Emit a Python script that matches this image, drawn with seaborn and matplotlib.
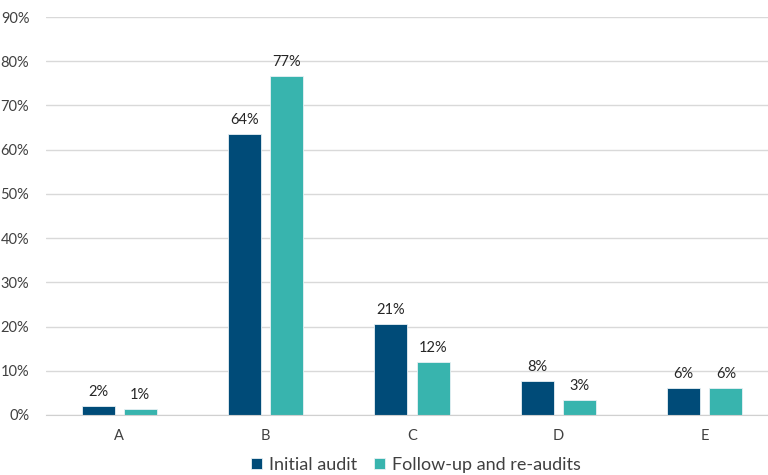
import pandas as pd
import seaborn as sns
import matplotlib.pyplot as plt

categories = ["A", "B", "C", "D", "E"]
initial = [2.1, 63.6, 20.6, 7.6, 6.2]
followup = [1.4, 76.7, 12.0, 3.4, 6.2]
series = ["Initial audit", "Follow-up and re-audits"]
yticks = [0, 10, 20, 30, 40, 50, 60, 70, 80, 90]

df = pd.DataFrame({
    "cat": categories * 2,
    "val": initial + followup,
    "serie": [series[0]] * 5 + [series[1]] * 5,
})

sns.set_style("white")
plt.rcParams["font.family"] = ["Lato", "DejaVu Sans"]

fig = plt.figure(figsize=(7.68, 4.75), dpi=100)
ax = fig.add_axes([46 / 768, 60 / 475, 732 / 768, 398 / 475])

sns.barplot(data=df, x="cat", y="val", hue="serie", order=categories,
            hue_order=series, palette=["#004B78", "#38B4AE"], saturation=1,
            width=0.575, gap=0.214, edgecolor="#E8F0F4", linewidth=0.6,
            ax=ax)

# etiketler
for cont in ax.containers:
    ax.bar_label(cont, labels=[f"{v:.0f}%" for v in cont.datavalues],
                 padding=5, fontsize=10.5, color="#262626")

ax.set_xlim(-0.5, 4.5)
ax.set_ylim(0, 90)
ax.set_yticks(yticks)
ax.set_yticklabels([f"{t}%" for t in yticks])
ax.yaxis.grid(True, color="#D9D9D9", linewidth=1)
ax.set_axisbelow(True)
for s in ["top", "right", "left"]:
    ax.spines[s].set_visible(False)
ax.spines["bottom"].set_color("#D0D0D0")
ax.tick_params(axis="both", length=0, labelsize=10.5, labelcolor="#404040")
ax.tick_params(axis="x", pad=10)
ax.tick_params(axis="y", pad=12)
ax.set_xlabel("")
ax.set_ylabel("")

sns.move_legend(ax, "center", bbox_to_anchor=(416 / 768, 10 / 475),
                bbox_transform=fig.transFigure,
                ncol=2, frameon=False, title=None, fontsize=13,
                handlelength=0.6, handleheight=0.6, handletextpad=0.4,
                columnspacing=0.9, labelcolor="#404040")

fig.savefig("out.png", dpi=100)
